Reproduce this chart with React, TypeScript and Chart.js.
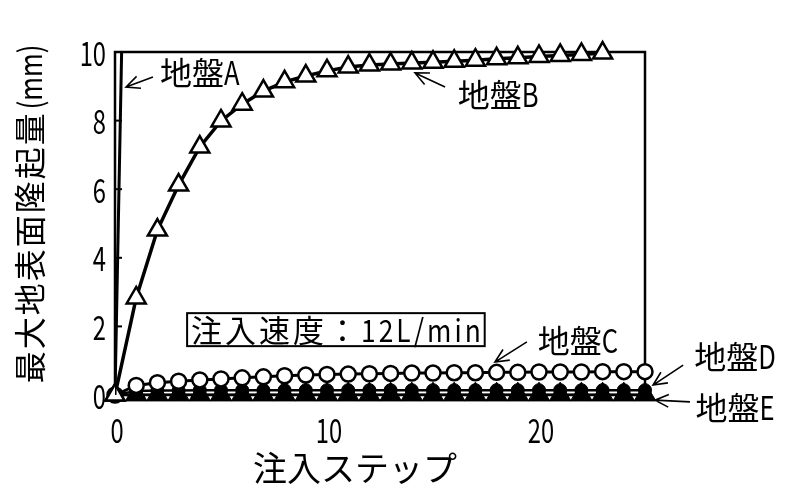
import React, { useEffect, useRef } from 'react';
import { Chart, registerables } from 'chart.js';

Chart.register(...registerables);

// ---- data ----
const stepsA = [0, 1];
const valuesA = [0, 32];

const stepsB = [0, 1, 2, 3, 4, 5, 6, 7, 8, 9, 10, 11, 12, 13, 14, 15, 16, 17, 18, 19, 20, 21, 22, 23];
const valuesB = [0, 2.83, 4.81, 6.12, 7.23, 7.99, 8.48, 8.86, 9.13, 9.3, 9.45, 9.56, 9.62, 9.65, 9.68, 9.7, 9.73, 9.76, 9.8, 9.83, 9.87, 9.9, 9.93, 9.97];

const stepsCDE = [0, 1, 2, 3, 4, 5, 6, 7, 8, 9, 10, 11, 12, 13, 14, 15, 16, 17, 18, 19, 20, 21, 22, 23, 24, 25];
const valuesC = [0, 0.28, 0.36, 0.4, 0.44, 0.47, 0.5, 0.53, 0.56, 0.58, 0.6, 0.61, 0.62, 0.63, 0.64, 0.64, 0.65, 0.65, 0.66, 0.66, 0.67, 0.67, 0.67, 0.68, 0.68, 0.68];
const valuesD = [0, 0.12, 0.13, 0.13, 0.14, 0.14, 0.14, 0.14, 0.14, 0.14, 0.14, 0.14, 0.14, 0.14, 0.14, 0.14, 0.14, 0.14, 0.14, 0.14, 0.14, 0.14, 0.14, 0.14, 0.14, 0.14];
const valuesE = [0, 0.01, 0.01, 0.01, 0.01, 0.01, 0.01, 0.01, 0.01, 0.01, 0.01, 0.01, 0.01, 0.01, 0.01, 0.01, 0.01, 0.01, 0.01, 0.01, 0.01, 0.01, 0.01, 0.01, 0.01, 0.01];

const xTicks = [0, 10, 20];
const yTicks = [0, 2, 4, 6, 8, 10];

const xTitle = '注入ステップ';
const yTitleMain = '最大地表面隆起量';
const yTitleUnit = '(mm)';
const boxText = '注入速度：12L/min';

const labelTexts = ['地盤A', '地盤B', '地盤C', '地盤D', '地盤E'];
const labelPos = [
  [4.0, 9.39],
  [18.07, 8.75],
  [21.84, 1.57],
  [29.25, 1.11],
  [29.25, -0.38],
];
const arrowFrom = [
  [1.79, 9.27],
  [15.57, 8.98],
  [19.43, 1.55],
  [26.8, 0.87],
  [27.12, -0.2],
];
const arrowTo = [
  [0.52, 8.98],
  [14.15, 9.39],
  [17.92, 0.96],
  [25.38, 0.29],
  [25.47, -0.15],
];
const boxPos = [10.42, 1.92];

const FONT = '"Noto Sans CJK JP", sans-serif';

const pts = (xs: number[], ys: number[]) => xs.map((x, i) => ({ x, y: ys[i] }));

function drawArrow(ctx: CanvasRenderingContext2D, x1: number, y1: number, x2: number, y2: number) {
  const ang = Math.atan2(y2 - y1, x2 - x1);
  const L = 15;
  const a = (25 * Math.PI) / 180;
  ctx.beginPath();
  ctx.moveTo(x1, y1);
  ctx.lineTo(x2, y2);
  ctx.moveTo(x2 - L * Math.cos(ang - a), y2 - L * Math.sin(ang - a));
  ctx.lineTo(x2, y2);
  ctx.lineTo(x2 - L * Math.cos(ang + a), y2 - L * Math.sin(ang + a));
  ctx.stroke();
}

function isWide(ch: string) {
  return ch.charCodeAt(0) > 0x2000;
}
function mixedWidth(ctx: CanvasRenderingContext2D, text: string, sx: number) {
  let w = 0;
  for (const ch of text) w += ctx.measureText(ch).width * (isWide(ch) ? 1 : sx);
  return w;
}
function drawMixed(ctx: CanvasRenderingContext2D, text: string, cx: number, cy: number, sx: number, gap = 0) {
  const chars = Array.from(text);
  const total = mixedWidth(ctx, text, sx) + gap * (chars.length - 1);
  let x = cx - total / 2;
  ctx.textAlign = 'left';
  ctx.textBaseline = 'middle';
  for (const ch of chars) {
    const s = isWide(ch) ? 1 : sx;
    const w = ctx.measureText(ch).width * s;
    ctx.save();
    ctx.translate(x, cy);
    ctx.scale(s, 1);
    ctx.fillText(ch, 0, 0);
    ctx.restore();
    x += w + gap;
  }
  return total;
}

const framePlugin = {
  id: 'framePlugin',
  beforeDatasetsDraw(chart: any) {
    const { ctx, chartArea } = chart;
    const xs = chart.scales.x;
    const ys = chart.scales.y;
    ctx.save();
    ctx.strokeStyle = '#000';
    ctx.fillStyle = '#000';
    ctx.lineWidth = 2.5;
    ctx.strokeRect(chartArea.left, chartArea.top, chartArea.right - chartArea.left, chartArea.bottom - chartArea.top);
    ctx.lineWidth = 2;
    yTicks.forEach((v) => {
      if (v === 0 || v === 10) return;
      const py = ys.getPixelForValue(v);
      ctx.beginPath();
      ctx.moveTo(chartArea.left, py);
      ctx.lineTo(chartArea.left + 7, py);
      ctx.stroke();
    });
    ctx.font = `33px ${FONT}`;
    yTicks.forEach((v) => {
      const t = String(v);
      const w = mixedWidth(ctx, t, 0.72);
      drawMixed(ctx, t, chartArea.left - 9 - w / 2, ys.getPixelForValue(v) + 1, 0.72);
    });
    xTicks.forEach((v) => {
      drawMixed(ctx, String(v), xs.getPixelForValue(v) + 2, chartArea.bottom + 35, 0.72);
    });
    ctx.restore();
  },
  afterDraw(chart: any) {
    const { ctx } = chart;
    const xs = chart.scales.x;
    const ys = chart.scales.y;
    ctx.save();
    ctx.fillStyle = '#000';
    ctx.strokeStyle = '#000';
    ctx.font = `32px ${FONT}`;
    labelTexts.forEach((t, i) => {
      drawMixed(ctx, t, xs.getPixelForValue(labelPos[i][0]), ys.getPixelForValue(labelPos[i][1]), 0.8);
      ctx.lineWidth = 1.6;
      drawArrow(
        ctx,
        xs.getPixelForValue(arrowFrom[i][0]),
        ys.getPixelForValue(arrowFrom[i][1]),
        xs.getPixelForValue(arrowTo[i][0]),
        ys.getPixelForValue(arrowTo[i][1])
      );
    });
    ctx.font = `31px ${FONT}`;
    const bx = xs.getPixelForValue(boxPos[0]);
    const by = ys.getPixelForValue(boxPos[1]);
    const chars = Array.from(boxText).length;
    const w = mixedWidth(ctx, boxText, 0.85) + 3 * (chars - 1);
    ctx.fillStyle = '#fff';
    ctx.fillRect(bx - w / 2 - 4, by - 16, w + 8, 33);
    ctx.fillStyle = '#000';
    drawMixed(ctx, boxText, bx, by + 1, 0.85, 3);
    ctx.lineWidth = 2;
    ctx.strokeRect(bx - w / 2 - 4, by - 16, w + 8, 33);
    // x title
    ctx.font = `34px ${FONT}`;
    drawMixed(ctx, xTitle, 355, 468, 1, 0);
    // y title
    ctx.save();
    ctx.translate(30, 214);
    ctx.rotate(-Math.PI / 2);
    ctx.font = `32px ${FONT}`;
    const gap = 2;
    const wMain = mixedWidth(ctx, yTitleMain, 1) + gap * (Array.from(yTitleMain).length - 1);
    ctx.font = `32px ${FONT}`;
    const wUnit = mixedWidth(ctx, yTitleUnit, 0.8);
    const total = wMain + 4 + wUnit;
    drawMixed(ctx, yTitleMain, -total / 2 + wMain / 2, 0, 1, gap);
    drawMixed(ctx, yTitleUnit, -total / 2 + wMain + 4 + wUnit / 2, 0, 0.8);
    ctx.restore();
    ctx.restore();
  },
};

export default function App() {
  const ref = useRef<HTMLCanvasElement>(null);
  useEffect(() => {
    document.body.style.margin = '0';
    const canvas = ref.current;
    if (!canvas) return;
    const chart = new Chart(canvas, {
      type: 'scatter',
      data: {
        datasets: [
          {
            label: 'A',
            data: pts(stepsA, valuesA),
            showLine: true,
            borderColor: '#000',
            borderWidth: 3,
            pointRadius: 0,
          },
          {
            label: 'B',
            data: pts(stepsB, valuesB),
            showLine: true,
            borderColor: '#000',
            borderWidth: 3.5,
            pointStyle: 'triangle',
            pointRadius: 11,
            pointBorderWidth: 2.5,
            pointBackgroundColor: '#fff',
            pointBorderColor: '#000',
            clip: false,
          },
          {
            label: 'C',
            data: pts(stepsCDE, valuesC),
            showLine: true,
            borderColor: '#000',
            borderWidth: 3,
            pointStyle: 'circle',
            pointRadius: 7.5,
            pointBorderWidth: 2.5,
            pointBackgroundColor: '#fff',
            pointBorderColor: '#000',
            clip: false,
          },
          {
            label: 'D',
            data: pts(stepsCDE, valuesD),
            showLine: true,
            borderColor: '#000',
            borderWidth: 2.5,
            pointStyle: 'circle',
            pointRadius: 6.5,
            pointBorderWidth: 1,
            pointBackgroundColor: '#000',
            pointBorderColor: '#000',
            clip: false,
          },
          {
            label: 'E',
            data: pts(stepsCDE, valuesE),
            showLine: true,
            borderColor: '#000',
            borderWidth: 2.5,
            pointStyle: 'triangle',
            pointRadius: 12.5,
            pointBorderWidth: 1,
            pointBackgroundColor: '#000',
            pointBorderColor: '#000',
            clip: false,
          },
        ],
      },
      options: {
        animation: false,
        responsive: false,
        maintainAspectRatio: false,
        layout: { padding: { top: 52, right: 155, left: 0, bottom: 0 } },
        plugins: { legend: { display: false }, tooltip: { enabled: false } },
        scales: {
          x: {
            type: 'linear',
            min: 0,
            max: 25,
            grid: { display: false },
            border: { display: false },
            afterBuildTicks: (s: any) => {
              s.ticks = xTicks.map((v) => ({ value: v }));
            },
            ticks: { display: false },
            afterFit: (s: any) => {
              s.height = 103;
            },
          },
          y: {
            type: 'linear',
            min: 0,
            max: 10,
            grid: { display: false },
            border: { display: false },
            afterBuildTicks: (s: any) => {
              s.ticks = yTicks.map((v) => ({ value: v }));
            },
            ticks: { display: false },
            afterFit: (s: any) => {
              s.width = 115;
            },
          },
        },
      },
      plugins: [framePlugin],
    } as any);
    return () => chart.destroy();
  }, []);
  return <canvas ref={ref} width={800} height={498} style={{ display: 'block' }} />;
}
